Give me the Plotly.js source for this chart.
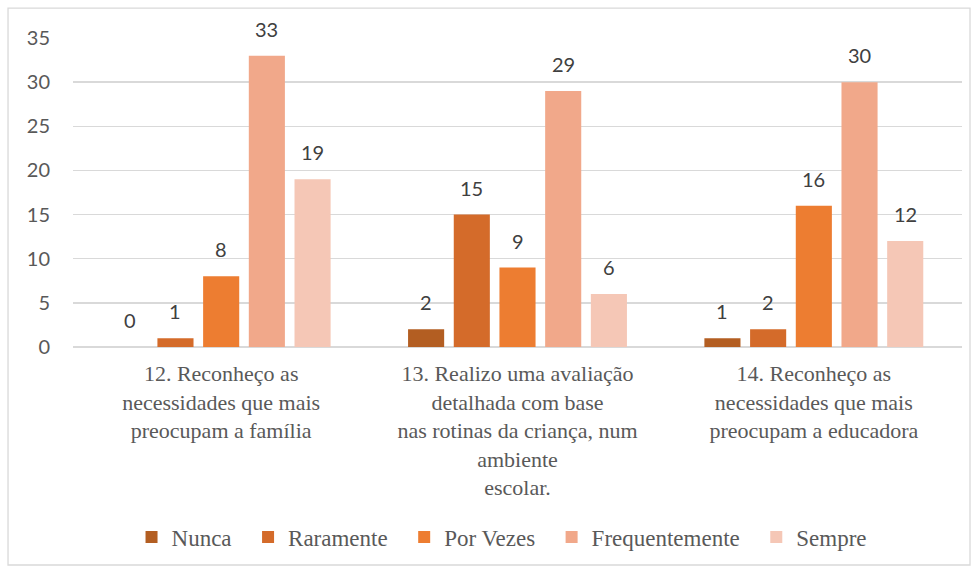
<!DOCTYPE html>
<html>
<head>
<meta charset="utf-8">
<script src="https://cdn.plot.ly/plotly-3.0.1.min.js"></script>
<style>html,body{margin:0;padding:0;background:#fff;}#chart{width:979px;height:568px;}</style>
</head>
<body>
<div id="chart"></div>
<script>
const categories = [
  "12. Reconheço as<br>necessidades que mais<br>preocupam a família",
  "13. Realizo uma avaliação<br>detalhada com base<br>nas rotinas da criança, num<br>ambiente<br>escolar.",
  "14. Reconheço as<br>necessidades que mais<br>preocupam a educadora"
];
const seriesNames = ["Nunca", "Raramente", "Por Vezes", "Frequentemente", "Sempre"];
const nunca = [0, 2, 1];
const raramente = [1, 15, 2];
const porVezes = [8, 9, 16];
const frequentemente = [33, 29, 30];
const sempre = [19, 6, 12];
const yTicks = [0, 5, 10, 15, 20, 25, 30, 35];

const seriesValues = [nunca, raramente, porVezes, frequentemente, sempre];
const colors = ["#B35E22", "#D46B2A", "#ED7D31", "#F1A88A", "#F5C7B6"];

const traces = seriesValues.map((vals, i) => ({
  type: "bar",
  name: seriesNames[i] + (i < seriesNames.length - 1 ? "\u00A0\u00A0" : ""),
  x: categories,
  y: vals,
  marker: {color: colors[i]},
  hoverinfo: "skip"
}));

const slotPx = 45.7;
const annotations = [];
seriesValues.forEach((vals, s) => {
  vals.forEach((v, c) => {
    annotations.push({
      x: categories[c], y: v, xref: "x", yref: "y",
      text: String(v), showarrow: false,
      xanchor: "center", yanchor: "bottom",
      xshift: (s - 2) * slotPx, yshift: 13,
      font: {family: "Lato, 'Open Sans', sans-serif", size: 20, color: "#404040"}
    });
  });
});

const layout = {
  width: 979, height: 568,
  margin: {l: 73, r: 17, t: 38, b: 221, autoexpand: false},
  paper_bgcolor: "#fff", plot_bgcolor: "#fff",
  barmode: "group", bargap: 0.229, bargroupgap: 0.21,
  showlegend: true,
  legend: {
    orientation: "h", xref: "container", yref: "container",
    x: 0.5128, xanchor: "center", y: 0.0546, yanchor: "middle",
    font: {family: "'Liberation Serif', 'Times New Roman', serif", size: 23, color: "#595959"},
    itemwidth: 30, tracegroupgap: 0
  },
  xaxis: {
    type: "category",
    tickfont: {family: "'Liberation Serif', 'Times New Roman', serif", size: 22, color: "#595959"},
    showgrid: false, showline: false, ticks: "", zeroline: false,
    ticklabelstandoff: 11
  },
  yaxis: {
    range: [0, 35], tickvals: yTicks, ticktext: yTicks.map(String),
    tickfont: {family: "Lato, 'Open Sans', sans-serif", size: 20, color: "#595959"},
    gridcolor: "#d9d9d9", gridwidth: 1.3, zeroline: true, zerolinecolor: "#d9d9d9", zerolinewidth: 1.3,
    showline: false, ticks: "", ticklabelstandoff: 22, fixedrange: true
  },
  annotations: annotations,
  shapes: [{
    type: "rect", xref: "paper", yref: "paper",
    x0: -0.0731, x1: 1.009, y0: -0.7055, y1: 1.097,
    line: {color: "#d9d9d9", width: 1.3}, fillcolor: "rgba(0,0,0,0)", layer: "below"
  }]
};

Plotly.newPlot("chart", traces, layout, {displayModeBar: false, staticPlot: true});
</script>
</body>
</html>
